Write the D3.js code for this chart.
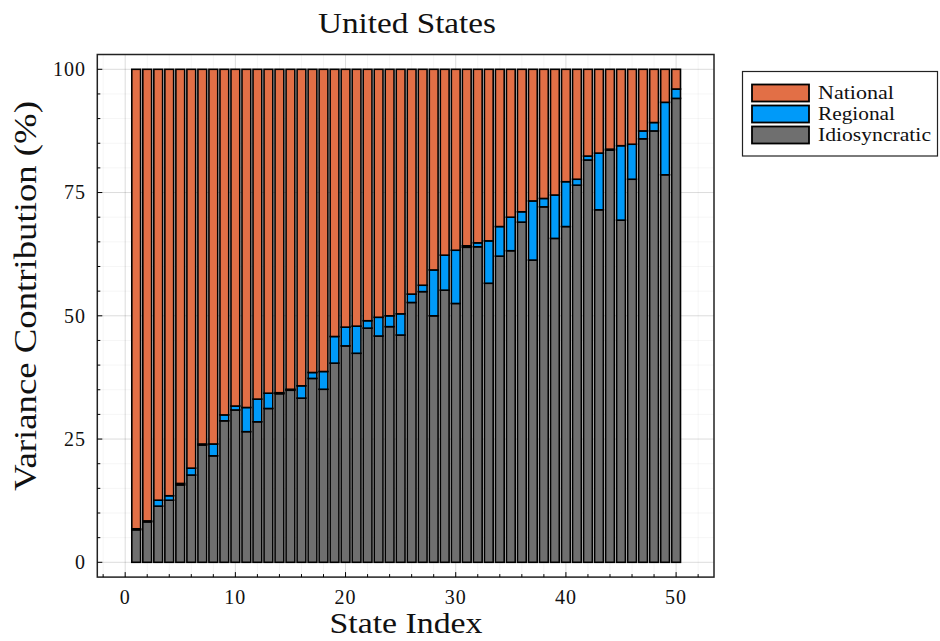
<!DOCTYPE html>
<html>
<head>
<meta charset="utf-8">
<script src="https://cdn.jsdelivr.net/npm/d3@7/dist/d3.min.js"></script>
<style>
  html, body { margin: 0; padding: 0; background: #fff; }
  svg text { font-family: "Liberation Serif", "Times New Roman", serif; fill: #111; }
</style>
</head>
<body>
<svg id="chart" width="940" height="641"></svg>
<script>
// Variance decomposition by state (percent of total)
const states = d3.range(1, 51);
const idiosyncratic = [
  6.6, 8.2, 11.4, 12.6, 15.7, 17.7, 23.8, 21.6, 28.7, 30.9,
  26.5, 28.5, 31.2, 34.2, 34.9, 33.3, 37.3, 35.1, 40.4, 43.9,
  42.4, 47.5, 45.9, 47.8, 46.1, 52.7, 54.9, 50.0, 55.2, 52.5,
  63.9, 64.0, 56.6, 62.1, 63.2, 69.0, 61.3, 72.1, 65.7, 68.1,
  76.5, 81.6, 71.5, 83.6, 69.4, 77.7, 85.9, 87.5, 78.6, 94.1
];
const regional = [
  0.2, 0.2, 1.2, 0.9, 0.3, 1.4, 0.2, 2.4, 1.2, 0.8,
  4.9, 4.6, 3.1, 0.2, 0.2, 2.5, 1.2, 3.6, 5.4, 3.8,
  5.5, 1.5, 3.8, 2.2, 4.3, 1.7, 1.3, 9.3, 7.1, 10.8,
  0.3, 0.8, 8.6, 6.0, 6.8, 2.1, 12.0, 1.7, 8.8, 9.1,
  1.2, 0.8, 11.5, 0.2, 15.1, 7.1, 1.6, 1.7, 14.7, 1.9
];
const national = [
  93.2, 91.6, 87.4, 86.5, 84.0, 80.9, 76.0, 76.0, 70.1, 68.3,
  68.6, 66.9, 65.7, 65.6, 64.9, 64.2, 61.5, 61.3, 54.2, 52.3,
  52.1, 51.0, 50.3, 50.0, 49.6, 45.6, 43.8, 40.7, 37.7, 36.7,
  35.8, 35.2, 34.8, 31.9, 30.0, 28.9, 26.7, 26.2, 25.5, 22.8,
  22.3, 17.6, 17.0, 16.2, 15.5, 15.2, 12.5, 10.8, 6.7, 4.0
];
const xTicks = [0, 10, 20, 30, 40, 50];
const yTicks = [0, 25, 50, 75, 100];
const seriesNames = ["Idiosyncratic", "Regional", "National"];
const legendOrder = ["National", "Regional", "Idiosyncratic"];
const colors = { National: "#e26f46", Regional: "#009af9", Idiosyncratic: "#6f6f6f" };

const rows = states.map((s, i) => ({
  state: s,
  Idiosyncratic: idiosyncratic[i],
  Regional: regional[i],
  National: national[i]
}));

const svg = d3.select("#chart");
const plotLeft = 97.3, plotRight = 714, plotTop = 54.5, plotBottom = 577.1;

const x = d3.scaleLinear().domain([-2.53, 53.44]).range([plotLeft, plotRight]);
const y = d3.scaleLinear().domain([-3, 103]).range([plotBottom, plotTop]);
const barW = 0.8;
const xMinor = d3.range(-2, 54, 2).filter(v => v % 10 !== 0);
const yMinor = d3.range(0, 105, 5).filter(v => v % 25 !== 0);

// grid: minor first, then major
const grid = svg.append("g");
grid.append("g").selectAll("line").data(xMinor).join("line")
  .attr("x1", d => x(d)).attr("x2", d => x(d))
  .attr("y1", plotTop).attr("y2", plotBottom)
  .attr("stroke", "#000").attr("stroke-opacity", 0.05).attr("stroke-width", 0.8);
grid.append("g").selectAll("line").data(yMinor).join("line")
  .attr("x1", plotLeft).attr("x2", plotRight)
  .attr("y1", d => y(d)).attr("y2", d => y(d))
  .attr("stroke", "#000").attr("stroke-opacity", 0.05).attr("stroke-width", 0.8);
grid.append("g").selectAll("line").data(xTicks).join("line")
  .attr("x1", d => x(d)).attr("x2", d => x(d))
  .attr("y1", plotTop).attr("y2", plotBottom)
  .attr("stroke", "#000").attr("stroke-opacity", 0.14).attr("stroke-width", 1);
grid.append("g").selectAll("line").data(yTicks).join("line")
  .attr("x1", plotLeft).attr("x2", plotRight)
  .attr("y1", d => y(d)).attr("y2", d => y(d))
  .attr("stroke", "#000").attr("stroke-opacity", 0.14).attr("stroke-width", 1);

// stacked bars
const stacked = d3.stack().keys(seriesNames)(rows);
svg.append("g").selectAll("g").data(stacked).join("g")
  .attr("fill", d => colors[d.key])
  .selectAll("rect").data(d => d).join("rect")
  .attr("x", d => x(d.data.state - barW / 2))
  .attr("width", d => x(d.data.state + barW / 2) - x(d.data.state - barW / 2))
  .attr("y", d => y(d[1]))
  .attr("height", d => y(d[0]) - y(d[1]))
  .attr("stroke", "#000").attr("stroke-width", 1.6);

// frame
svg.append("rect")
  .attr("x", plotLeft).attr("y", plotTop)
  .attr("width", plotRight - plotLeft).attr("height", plotBottom - plotTop)
  .attr("fill", "none").attr("stroke", "#222").attr("stroke-width", 1.5);

// ticks pointing inward
const tk = svg.append("g").attr("stroke", "#000").attr("stroke-width", 1);
tk.append("g").selectAll("line").data(xTicks).join("line")
  .attr("x1", d => x(d)).attr("x2", d => x(d))
  .attr("y1", plotBottom).attr("y2", plotBottom - 5);
tk.append("g").selectAll("line").data(xMinor).join("line")
  .attr("x1", d => x(d)).attr("x2", d => x(d))
  .attr("y1", plotBottom).attr("y2", plotBottom - 3);
tk.append("g").selectAll("line").data(yTicks).join("line")
  .attr("x1", plotLeft).attr("x2", plotLeft + 5)
  .attr("y1", d => y(d)).attr("y2", d => y(d));
tk.append("g").selectAll("line").data(yMinor).join("line")
  .attr("x1", plotLeft).attr("x2", plotLeft + 3)
  .attr("y1", d => y(d)).attr("y2", d => y(d));

// tick labels
svg.append("g").selectAll("text").data(xTicks).join("text")
  .attr("x", d => x(d)).attr("y", 604)
  .attr("text-anchor", "middle").attr("font-size", 20).attr("letter-spacing", 1)
  .text(d => d);
svg.append("g").selectAll("text").data(yTicks).join("text")
  .attr("x", 86).attr("y", d => y(d)).attr("dy", "0.34em")
  .attr("text-anchor", "end").attr("font-size", 20).attr("letter-spacing", 1)
  .text(d => d);

// title and axis labels
svg.append("text")
  .attr("x", 407).attr("y", 33)
  .attr("text-anchor", "middle").attr("font-size", 29)
  .attr("textLength", 178).attr("lengthAdjust", "spacingAndGlyphs")
  .text("United States");
svg.append("text")
  .attr("x", 406).attr("y", 633)
  .attr("text-anchor", "middle").attr("font-size", 30)
  .attr("textLength", 153).attr("lengthAdjust", "spacingAndGlyphs")
  .text("State Index");
svg.append("text")
  .attr("transform", "translate(36,296) rotate(-90)")
  .attr("text-anchor", "middle").attr("font-size", 31)
  .attr("textLength", 390).attr("lengthAdjust", "spacingAndGlyphs")
  .text("Variance Contribution (%)");

// legend
const legendWidths = { National: 76, Regional: 77, Idiosyncratic: 113 };
const lg = svg.append("g");
lg.append("rect")
  .attr("x", 742.5).attr("y", 71.5).attr("width", 195).attr("height", 84.5)
  .attr("fill", "#fff").attr("stroke", "#222").attr("stroke-width", 1.2);
legendOrder.forEach((name, i) => {
  const yy = 84.5 + i * 21;
  lg.append("rect")
    .attr("x", 752).attr("y", yy).attr("width", 57).attr("height", 17)
    .attr("fill", colors[name]).attr("stroke", "#000").attr("stroke-width", 1.8);
  lg.append("text")
    .attr("x", 818).attr("y", yy + 14)
    .attr("font-size", 19)
    .attr("textLength", legendWidths[name]).attr("lengthAdjust", "spacingAndGlyphs")
    .text(name);
});
</script>
</body>
</html>
